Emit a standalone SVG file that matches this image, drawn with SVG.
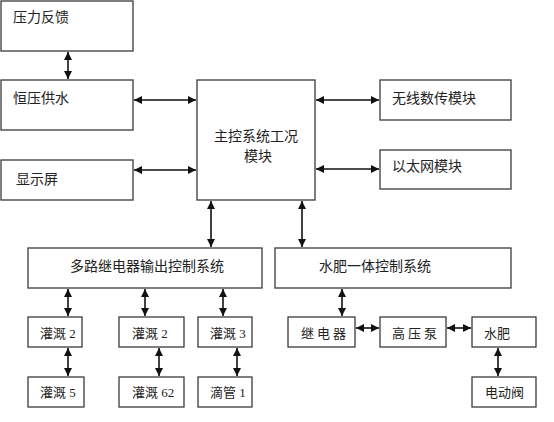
<svg xmlns="http://www.w3.org/2000/svg" width="554" height="422" viewBox="0 0 554 422">
<defs>
<style>
.b{fill:#fff;stroke:#3a3a3a;stroke-width:1.3}
.t{font-family:"Liberation Serif","Noto Sans CJK SC",serif;font-size:14px;fill:#222}
.s{font-family:"Liberation Serif","Noto Sans CJK SC",serif;font-size:13px;fill:#222}
.c{stroke:#111;stroke-width:1.6;fill:none;marker-start:url(#a);marker-end:url(#a)}
</style>
<marker id="a" viewBox="0 0 10 10" refX="10" refY="5" markerWidth="5" markerHeight="5" orient="auto-start-reverse" markerUnits="strokeWidth">
<path d="M0,0 L10,5 L0,10 z" fill="#111"/>
</marker>
</defs>
<g id="n1"><rect class="b" x="1" y="1" width="132" height="50"/><text class="t" x="13" y="22">压力反馈</text></g>
<g id="n2"><rect class="b" x="1" y="80" width="132" height="50"/><text class="t" x="13" y="103">恒压供水</text></g>
<g id="n3"><rect class="b" x="1" y="160" width="132" height="40"/><text class="t" x="16" y="184">显示屏</text></g>
<g id="n4"><rect class="b" x="197" y="80" width="118" height="120"/><text class="t" x="256" y="141" text-anchor="middle">主控系统工况</text><text class="t" x="258" y="161" text-anchor="middle">模块</text></g>
<g id="n5"><rect class="b" x="380" y="80" width="131" height="40"/><text class="t" x="392" y="103">无线数传模块</text></g>
<g id="n6"><rect class="b" x="380" y="150" width="131" height="39"/><text class="t" x="392" y="171">以太网模块</text></g>
<g id="n7"><rect class="b" x="28" y="248" width="234" height="40"/><text class="t" x="70" y="271">多路继电器输出控制系统</text></g>
<g id="n8"><rect class="b" x="275" y="248" width="236" height="40"/><text class="t" x="319" y="271">水肥一体控制系统</text></g>
<g id="n9"><rect class="b" x="28" y="317" width="54" height="30"/><text class="s" x="40" y="338">灌溉 2</text></g>
<g id="n10"><rect class="b" x="119" y="317" width="65" height="30"/><text class="s" x="132" y="338">灌溉 2</text></g>
<g id="n11"><rect class="b" x="198" y="317" width="54" height="30"/><text class="s" x="210" y="338">灌溉 3</text></g>
<g id="n12"><rect class="b" x="28" y="377" width="56" height="30"/><text class="s" x="40" y="397">灌溉 5</text></g>
<g id="n13"><rect class="b" x="119" y="377" width="65" height="30"/><text class="s" x="132" y="397">灌溉 62</text></g>
<g id="n14"><rect class="b" x="198" y="377" width="54" height="30"/><text class="s" x="210" y="397">滴管 1</text></g>
<g id="n15"><rect class="b" x="288" y="317" width="67" height="30"/><text class="s" x="301" y="338" letter-spacing="3">继电器</text></g>
<g id="n16"><rect class="b" x="380" y="317" width="66" height="30"/><text class="s" x="392" y="338" letter-spacing="3">高压泵</text></g>
<g id="n17"><rect class="b" x="472" y="317" width="64" height="30"/><text class="s" x="484" y="338">水肥</text></g>
<g id="n18"><rect class="b" x="472" y="377" width="64" height="30"/><text class="s" x="485" y="397">电动阀</text></g>
<g id="connectors">
<line class="c" x1="68" y1="52" x2="68" y2="79"/>
<line class="c" x1="134" y1="100" x2="196" y2="100"/>
<line class="c" x1="134" y1="170" x2="196" y2="170"/>
<line class="c" x1="316" y1="100" x2="379" y2="100"/>
<line class="c" x1="316" y1="169" x2="379" y2="169"/>
<line class="c" x1="211" y1="201" x2="211" y2="247"/>
<line class="c" x1="302" y1="201" x2="302" y2="247"/>
<line class="c" x1="68" y1="289" x2="68" y2="316"/>
<line class="c" x1="145" y1="289" x2="145" y2="316"/>
<line class="c" x1="223" y1="289" x2="223" y2="316"/>
<line class="c" x1="68" y1="348" x2="68" y2="376"/>
<line class="c" x1="159" y1="348" x2="159" y2="376"/>
<line class="c" x1="237" y1="348" x2="237" y2="376"/>
<line class="c" x1="342" y1="289" x2="342" y2="316"/>
<line class="c" x1="356" y1="328" x2="379" y2="328"/>
<line class="c" x1="447" y1="328" x2="471" y2="328"/>
<line class="c" x1="498" y1="348" x2="498" y2="376"/>
</g>
</svg>
